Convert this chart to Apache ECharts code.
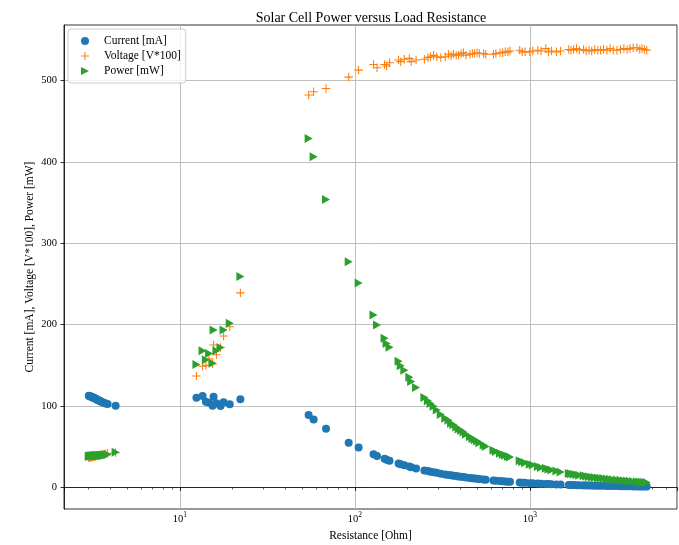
<!DOCTYPE html>
<html>
<head>
<meta charset="utf-8">
<script src="https://cdn.jsdelivr.net/npm/echarts@6/dist/echarts.min.js"></script>
<style>
html,body{margin:0;padding:0;background:#fff;}
#chart{width:679px;height:545px;}
</style>
</head>
<body>
<div id="chart"></div>
<script>
// Load resistance [Ohm]
const resistance = [
  3.02,3.05,3.08,3.11,3.14,3.17,3.20,3.23,3.26,3.29,3.32,3.36,3.40,3.44,3.48,3.53,3.58,3.64,3.70,3.77,3.87,4.30,
  12.45,13.5,14.1,14.7,15.4,15.6,16.2,17.1,17.8,19.3,22.2,
  54.5,58.2,68.5,92.3,105.2,128,134,148,152,158,178,183,192,205,210,224,250,262,271,282,294,310,329,343,355,366,380,392,405,418,432,455,470,484,500,515,545,560,
  620,640,676,700,724,750,771,876,905,940,1000,1040,1113,1160,1235,1280,1330,1420,1500,
  1670,1720,1780,1850,1920,2030,2100,2180,2260,2350,2450,2540,2640,2760,2880,3000,3150,3300,3450,3600,3740,3900,4100,4250,4380,4520,4660
];
// Current [mA]
const current = [
  112.6,112.3,112.0,111.6,111.2,110.9,110.5,110.0,109.6,109.2,108.8,108.2,107.6,107.0,106.5,105.8,105.1,104.4,103.8,103.2,102.4,100.3,
  110.3,112.4,105.4,104.0,100.5,111.5,103.4,100.1,104.6,102.2,108.3,
  88.9,83.6,72.2,55.0,49.0,40.8,38.7,35.3,34.2,33.0,29.5,28.6,27.4,25.7,24.9,23.4,21.0,20.2,19.5,18.8,18.0,17.0,16.1,15.5,14.9,14.5,14.0,13.5,13.2,12.8,12.3,11.7,11.3,11.0,10.7,10.3,9.8,9.5,
  8.6,8.3,7.9,7.6,7.4,7.1,7.0,6.1,5.9,5.7,5.35,5.15,4.8,4.6,4.4,4.2,4.0,3.8,3.57,
  3.2,3.1,3.0,2.9,2.8,2.65,2.55,2.46,2.37,2.29,2.19,2.11,2.04,1.95,1.87,1.79,1.70,1.63,1.56,1.49,1.44,1.38,1.32,1.27,1.23,1.19,1.15
];
// Voltage [V*100]
const voltage = [
  36.5,36.8,37.0,37.2,37.4,37.7,37.9,38.0,38.2,38.4,38.6,38.9,39.1,39.3,39.6,39.8,40.1,40.5,40.9,41.4,42.1,43.1,
  137,149,150,158,152,175,163,172,186,197.5,239,
  482,486,490,504,512.6,519.6,515.5,519.6,517.6,521.6,525,523,526,527,523,525,526,528,529,530.7,529,528,529,532,530,532.3,531,531,533,534,531,532,533,533,534,533,533,532,
  532,533,534,534,535,535,536,537,535,535,535,536,537,536,539,535,536,535,536,
  538,537,538,539,537,538,536,537,536,538,537,537,538,537,539,537,537,538,539,538,539,540,540,538,539,538,537
];
// Power [mW]
const power = [
  38.3,38.5,38.6,38.7,38.8,39.0,39.1,39.1,39.1,39.2,39.3,39.4,39.4,39.4,39.5,39.5,39.5,39.7,39.9,40.1,40.6,43.2,
  151,168,157,164.7,152.5,193.4,168,172,193.4,201.6,259,
  428.5,406.3,353.8,277.2,251.2,212.0,199.5,183.4,177.0,172.1,154.9,149.6,144.1,135.4,130.2,122.9,110.5,106.4,103.2,99.8,95.2,89.8,85.2,82.5,79.0,77.2,74.3,71.7,70.4,68.3,65.3,62.2,60.2,58.6,57.1,54.9,52.2,50.5,
  45.8,44.2,42.2,40.6,39.6,38.0,37.5,32.8,31.6,30.5,28.6,27.6,25.8,24.7,23.7,22.4,21.6,20.2,19.1,
  17.3,16.8,16.3,15.7,15.0,14.3,13.7,13.2,12.7,12.3,11.8,11.4,11.0,10.4,10.1,9.6,9.2,8.8,8.4,8.0,7.8,7.5,7.1,6.8,6.6,6.4,6.2
];
const seriesNames = ['Current [mA]', 'Voltage [V*100]', 'Power [mW]'];
const yTicks = [0, 100, 200, 300, 400, 500];

const FONT = '"Liberation Serif", "DejaVu Serif", serif';
const plusPath = 'path://M3.5,0H4.5V3.5H8V4.5H4.5V8H3.5V4.5H0V3.5H3.5Z';
const triPath = 'path://M0,0L8,4L0,8Z';

const chart = echarts.init(document.getElementById('chart'), null, {renderer: 'canvas'});
const pair = arr => resistance.map((r, i) => [r, arr[i]]);

chart.setOption({
  animation: false,
  backgroundColor: '#ffffff',
  textStyle: {fontFamily: FONT, color: '#000'},
  title: {
    text: 'Solar Cell Power versus Load Resistance',
    left: 366, top: 6, textAlign: 'center',
    textStyle: {fontFamily: FONT, fontSize: 14, fontWeight: 'normal', color: '#000'}
  },
  legend: {
    orient: 'vertical',
    left: 68, top: 29,
    padding: [6, 5, 6, 13],
    itemWidth: 8, itemHeight: 8, itemGap: 3,
    backgroundColor: 'rgba(255,255,255,0.8)',
    borderColor: '#cccccc', borderWidth: 1, borderRadius: 3,
    textStyle: {fontFamily: FONT, fontSize: 11.5, color: '#000', padding: [0, 0, 0, 10]},
    data: [
      {name: seriesNames[0], icon: 'circle'},
      {name: seriesNames[1], icon: plusPath},
      {name: seriesNames[2], icon: triPath}
    ]
  },
  grid: {
    left: 64, right: 2, top: 25, bottom: 36,
    show: true, borderColor: '#000', borderWidth: 0.8, backgroundColor: 'transparent',
    containLabel: false,
    outerBoundsMode: 'none'
  },
  xAxis: {
    type: 'log', logBase: 10,
    min: 2.18, max: 6940,
    name: 'Resistance [Ohm]', nameLocation: 'middle', nameGap: 18,
    nameTextStyle: {fontFamily: FONT, fontSize: 11.5, color: '#000'},
    axisLine: {show: true, lineStyle: {color: '#000', width: 0.8}},
    axisTick: {show: true, inside: false, length: 3.5, lineStyle: {color: '#000', width: 0.8}},
    minorTick: {show: true, splitNumber: 9, length: 2, lineStyle: {color: '#000', width: 0.6}},
    axisLabel: {
      margin: 2, color: '#000',
      showMinLabel: false, showMaxLabel: false,
      formatter: v => {
        const l = Math.log10(v);
        const n = Math.round(l);
        if (Math.abs(l - n) < 1e-6) return '{b|10}{s|' + n + '}';
        return '';
      },
      rich: {
        b: {fontFamily: FONT, fontSize: 10.5, color: '#000', verticalAlign: 'bottom', lineHeight: 14},
        s: {fontFamily: FONT, fontSize: 7.5, color: '#000', verticalAlign: 'top', lineHeight: 8}
      }
    },
    splitLine: {show: true, lineStyle: {color: '#b0b0b0', width: 0.8}}
  },
  yAxis: {
    type: 'value',
    min: -26.4, max: 568,
    name: 'Current [mA], Voltage [V*100], Power [mW]', nameLocation: 'middle', nameGap: 28,
    nameMoveOverlap: false,
    nameTextStyle: {fontFamily: FONT, fontSize: 11.5, color: '#000'},
    axisLine: {show: true, lineStyle: {color: '#000', width: 0.8}},
    axisTick: {show: true, inside: false, length: 3.5, customValues: yTicks, lineStyle: {color: '#000', width: 0.8}},
    axisLabel: {margin: 7, fontFamily: FONT, fontSize: 10.5, color: '#000', customValues: yTicks},
    splitLine: {show: true, lineStyle: {color: '#b0b0b0', width: 0.8}}
  },
  series: [
    {
      name: seriesNames[0], type: 'scatter', symbol: 'circle', symbolSize: 8,
      itemStyle: {color: '#1f77b4', opacity: 1},
      data: pair(current)
    },
    {
      name: seriesNames[1], type: 'scatter', symbol: plusPath, symbolSize: 8.5,
      itemStyle: {color: '#ff7f0e', opacity: 1},
      data: pair(voltage)
    },
    {
      name: seriesNames[2], type: 'scatter', symbol: triPath, symbolSize: [8, 9],
      itemStyle: {color: '#2ca02c', opacity: 1},
      data: pair(power)
    }
  ]
});
</script>
</body>
</html>
